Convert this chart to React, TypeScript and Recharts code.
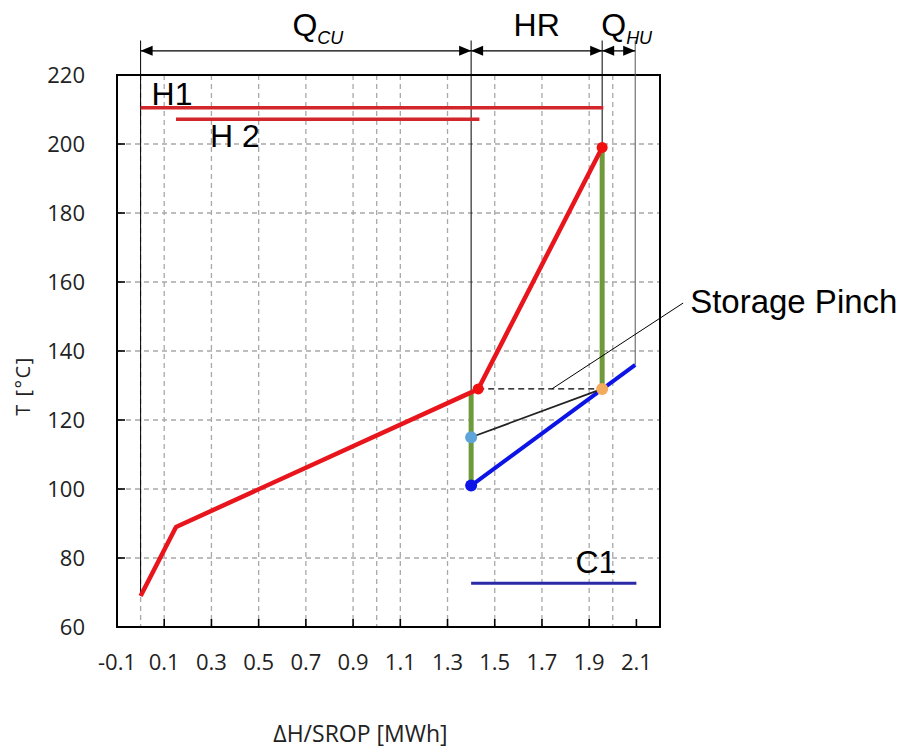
import React from 'react';
import {
  ComposedChart,
  Line,
  XAxis,
  YAxis,
  CartesianGrid,
  ReferenceLine,
  ReferenceDot,
  ReferenceArea,
} from 'recharts';

// ---------- data ----------
const xTicks = [-0.1, 0.1, 0.3, 0.5, 0.7, 0.9, 1.1, 1.3, 1.5, 1.7, 1.9, 2.1];
const gridX = [-0.1, 0, 0.1, 0.2, 0.3, 0.4, 0.5, 0.6, 0.7, 0.8, 0.9, 1.0, 1.1, 1.2, 1.3, 1.4, 1.5, 1.6, 1.7, 1.8, 1.9, 2.0, 2.1, 2.2];
const yTicks = [60, 80, 100, 120, 140, 160, 180, 200, 220];

const hotComposite = [
  { x: 0, y: 69 },
  { x: 0.15, y: 89 },
  { x: 1.4, y: 128 },
  { x: 1.43, y: 129 },
  { x: 1.955, y: 199 },
];
const coldComposite = [
  { x: 1.4, y: 101 },
  { x: 2.095, y: 136 },
];
const storageLine = [
  { x: 1.4, y: 115 },
  { x: 1.955, y: 129 },
];
const pinchLine = [
  { x: 1.43, y: 129 },
  { x: 1.955, y: 129 },
];
const streamH1 = [
  { x: 0, y: 210.5 },
  { x: 1.96, y: 210.5 },
];
const streamH2 = [
  { x: 0.15, y: 207.2 },
  { x: 1.435, y: 207.2 },
];
const streamC1 = [
  { x: 1.4, y: 72.7 },
  { x: 2.1, y: 72.7 },
];
const recoveryLeft = [
  { x: 1.4, y: 128 },
  { x: 1.4, y: 101 },
];
const recoveryRight = [
  { x: 1.955, y: 199 },
  { x: 1.955, y: 129 },
];

const dots = [
  { x: 1.43, y: 129, color: '#f01010', r: 5.5 },
  { x: 1.955, y: 199, color: '#f01010', r: 5.5 },
  { x: 1.955, y: 129, color: '#f2ab5c', r: 6 },
  { x: 1.4, y: 115, color: '#5ca4da', r: 6 },
  { x: 1.4, y: 101, color: '#0c14e6', r: 6 },
];

// vertical guide lines reaching the top annotation
const guideTop = 230;
const guides = [
  { x: 0, bottom: 69, color: '#000' },
  { x: 1.4, bottom: 101, color: '#000' },
  { x: 1.955, bottom: 199, color: '#000' },
  { x: 2.095, bottom: 136, color: '#555' },
];

const arrowLevel = 227;
const arrows = [
  { from: 0, to: 1.4, label: 'Q', sub: 'CU', dx: 12 },
  { from: 1.4, to: 1.955, label: 'HR', sub: '', dx: 0 },
  { from: 1.955, to: 2.095, label: 'Q', sub: 'HU', dx: 8 },
];

const streamLabels = [
  { text: 'H1', x: 0, y: 210.5, dx: 11, dy: -3, anchor: 'start' },
  { text: 'H 2', x: 0.15, y: 207.2, dx: 34, dy: 28, anchor: 'start' },
  { text: 'C1', x: 2.1, y: 72.7, dx: -20, dy: -10, anchor: 'end' },
];

const pinchLeader = [
  { x: 2.298, y: 153.9 },
  { x: 1.742, y: 129 },
];
const pinchText = 'Storage Pinch';
const xTitle = 'ΔH/SROP [MWh]';
const yTitle = 'T [°C]';

const ANNOT_FONT = '"Liberation Sans", Arial, sans-serif';
const TICK_FONT = '"Open Sans", "Noto Sans", sans-serif';

const makeArrowShape = (label: string, sub: string, dx: number) => (props: any) => {
  const { x1, y1, x2, y2 } = props;
  const h = 12;
  const w = 5;
  const cx = (x1 + x2) / 2 + dx;
  return (
    <g>
      <line x1={x1} y1={y1} x2={x2} y2={y2} stroke="#000" strokeWidth={1.3} />
      <polygon points={`${x1},${y1} ${x1 + h},${y1 - w} ${x1 + h},${y1 + w}`} fill="#000" />
      <polygon points={`${x2},${y2} ${x2 - h},${y2 - w} ${x2 - h},${y2 + w}`} fill="#000" />
      <text x={cx} y={y1 - 15} textAnchor="middle" fontFamily={ANNOT_FONT} fontSize={32} fill="#000">
        {label}
        {sub ? (
          <tspan dy={8} fontSize={18} fontStyle="italic">
            {sub}
          </tspan>
        ) : null}
      </text>
    </g>
  );
};

const XTitle = (props: any) => {
  const vb = props.viewBox || { x: 117, y: 627, width: 543 };
  return (
    <text
      x={vb.x + vb.width / 2 - 28}
      y={742}
      textAnchor="middle"
      fill="#222"
      style={{ fontFamily: TICK_FONT, fontSize: 23 }}
    >
      {xTitle}
    </text>
  );
};

const YTitle = (props: any) => {
  const vb = props.viewBox || { x: 57, y: 75, height: 552 };
  const cx = 22;
  const cy = vb.y + vb.height / 2 + 35;
  return (
    <text
      x={cx}
      y={cy}
      transform={`rotate(-90, ${cx}, ${cy})`}
      textAnchor="middle"
      dominantBaseline="central"
      fill="#222"
      style={{ fontFamily: TICK_FONT, fontSize: 20, letterSpacing: 1.5 }}
    >
      {yTitle}
    </text>
  );
};

export default function App() {
  return (
    <div style={{ position: 'absolute', left: 0, top: 0, width: 911, height: 749, background: '#fff' }}>
      <ComposedChart
        width={911}
        height={749}
        margin={{ top: 75, right: 251, bottom: 62, left: 57 }}
      >
        <XAxis
          xAxisId="grid"
          type="number"
          dataKey="x"
          domain={[-0.1, 2.2]}
          ticks={gridX}
          allowDataOverflow
          hide
        />
        <CartesianGrid
          xAxisId="grid"
          stroke="#a8a8a8"
          strokeWidth={1.3}
          strokeDasharray="5 4"
        />
        <XAxis
          type="number"
          dataKey="x"
          domain={[-0.1, 2.2]}
          ticks={xTicks}
          allowDataOverflow
          interval={0}
          height={60}
          axisLine={false}
          tickSize={-8}
          tickMargin={35}
          tickLine={{ stroke: '#000', strokeWidth: 1.6 }}
          tick={{ fontFamily: TICK_FONT, fontSize: 22, fill: '#222' }}
          tickFormatter={(v: number) => v.toFixed(1)}
          label={<XTitle />}
        />
        <YAxis
          type="number"
          dataKey="y"
          domain={[60, 220]}
          ticks={yTicks}
          allowDataOverflow
          interval={0}
          width={60}
          axisLine={false}
          tickSize={-8}
          tickMargin={40}
          tickLine={{ stroke: '#000', strokeWidth: 1.6 }}
          tick={{ fontFamily: TICK_FONT, fontSize: 22, fill: '#222' }}
          label={<YTitle />}
        />
        <ReferenceArea
          x1={-0.1}
          x2={2.2}
          y1={60}
          y2={220}
          ifOverflow="visible"
          fill="none"
          fillOpacity={0}
          stroke="#000"
          strokeWidth={2}
        />

        {guides.map((g, i) => (
          <ReferenceLine
            key={`g${i}`}
            segment={[
              { x: g.x, y: guideTop },
              { x: g.x, y: g.bottom },
            ]}
            ifOverflow="visible"
            stroke={g.color}
            strokeWidth={1}
          />
        ))}

        {arrows.map((a, i) => (
          <ReferenceLine
            key={`a${i}`}
            segment={[
              { x: a.from, y: arrowLevel },
              { x: a.to, y: arrowLevel },
            ]}
            ifOverflow="visible"
            shape={makeArrowShape(a.label, a.sub, a.dx)}
          />
        ))}

        <Line data={streamH1} dataKey="y" stroke="#d2262b" strokeWidth={3.5} dot={false} isAnimationActive={false} />
        <Line data={streamH2} dataKey="y" stroke="#d2262b" strokeWidth={3.5} dot={false} isAnimationActive={false} />
        <Line data={streamC1} dataKey="y" stroke="#2a2aa6" strokeWidth={3} dot={false} isAnimationActive={false} />

        <Line data={recoveryLeft} dataKey="y" stroke="#6e9a3c" strokeWidth={5} dot={false} isAnimationActive={false} />
        <Line data={recoveryRight} dataKey="y" stroke="#6e9a3c" strokeWidth={5} dot={false} isAnimationActive={false} />

        <Line data={hotComposite} dataKey="y" stroke="#e8161c" strokeWidth={4.5} dot={false} isAnimationActive={false} strokeLinejoin="round" />
        <Line data={coldComposite} dataKey="y" stroke="#0c14e6" strokeWidth={4} dot={false} isAnimationActive={false} />
        <Line data={storageLine} dataKey="y" stroke="#222" strokeWidth={1.8} dot={false} isAnimationActive={false} />
        <Line data={pinchLine} dataKey="y" stroke="#000" strokeWidth={1.2} strokeDasharray="6 4" dot={false} isAnimationActive={false} />

        <ReferenceLine
          segment={pinchLeader}
          ifOverflow="visible"
          stroke="#000"
          strokeWidth={1}
        />
        <ReferenceDot
          x={pinchLeader[0].x}
          y={pinchLeader[0].y}
          ifOverflow="visible"
          shape={(p: any) => (
            <text x={p.cx + 7} y={p.cy + 10} fontFamily={ANNOT_FONT} fontSize={33} fill="#000">
              {pinchText}
            </text>
          )}
        />

        {dots.map((d, i) => (
          <ReferenceDot key={`d${i}`} x={d.x} y={d.y} r={d.r} fill={d.color} stroke="none" ifOverflow="visible" />
        ))}

        {streamLabels.map((s, i) => (
          <ReferenceDot
            key={`s${i}`}
            x={s.x}
            y={s.y}
            ifOverflow="visible"
            shape={(p: any) => (
              <text
                x={p.cx + s.dx}
                y={p.cy + s.dy}
                textAnchor={s.anchor as any}
                fontFamily={ANNOT_FONT}
                fontSize={32}
                fill="#000"
              >
                {s.text}
              </text>
            )}
          />
        ))}
      </ComposedChart>
    </div>
  );
}
